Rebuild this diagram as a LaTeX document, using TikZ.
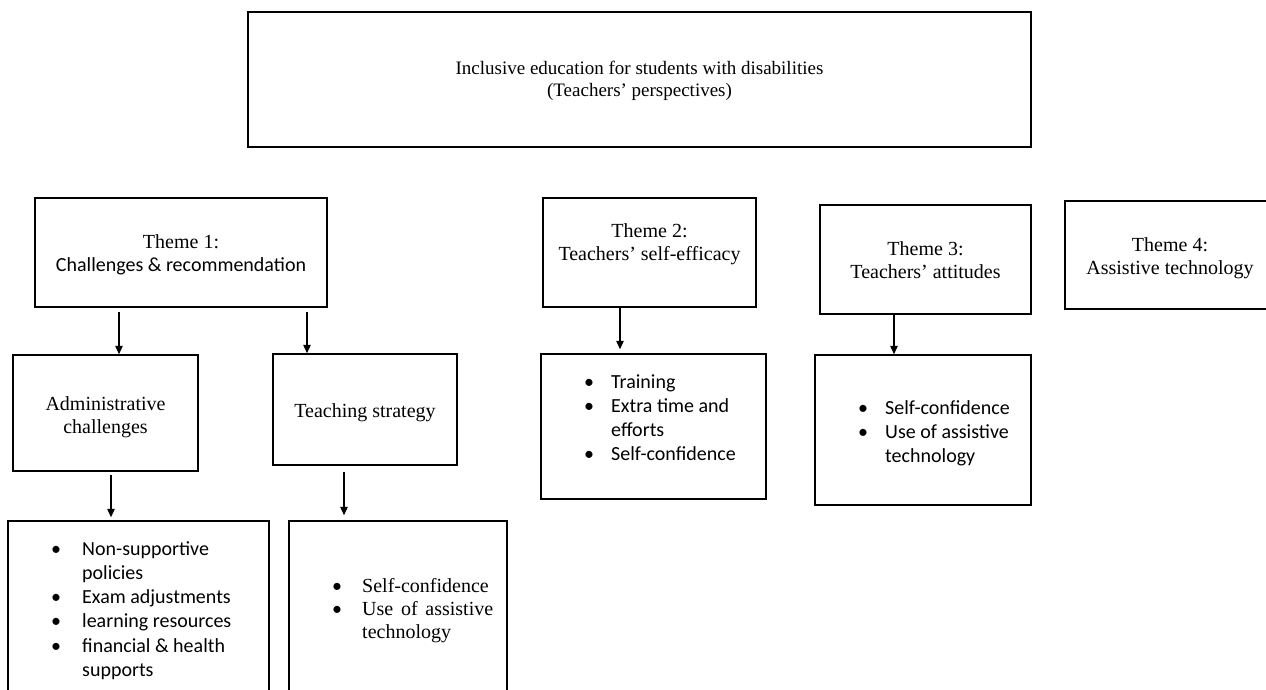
\documentclass[tikz,border=0pt]{standalone}
\usepackage{fontspec}
\setmainfont{Liberation Serif}
\newfontfamily\calfont{Carlito}
\usetikzlibrary{arrows.meta}
% bullet centred on the anchor, item text after a fixed indent
\newcommand\bitem[2]{\makebox[0pt][c]{\calfont\textbullet}\hspace*{#1}#2}
\begin{document}
\begin{tikzpicture}[x=1pt,y=-1pt,
  box/.style={draw=black, line width=1.5pt, inner sep=0pt},
  tm/.style={anchor=base, inner sep=0pt, font=\fontsize{20}{23}\selectfont},
  cb/.style={anchor=base, inner sep=0pt, font=\calfont\fontsize{20}{24}\selectfont},
  li/.style={anchor=base west, inner sep=0pt, font=\calfont\fontsize{20}{24}\selectfont},
  lt/.style={anchor=base west, inner sep=0pt, font=\fontsize{20}{23}\selectfont},
  arr/.style={line width=1.3pt, -{Triangle[length=8.5pt,width=7.5pt]}}]

\useasboundingbox (0,0) rectangle (1266,690);
\fill[white] (0,0) rectangle (1266,690);
\clip (0,0) rectangle (1266,690);

% frames
\node[box, minimum width=783pt, minimum height=135pt] (top) at (639.5,79.5) {};
\node[box, minimum width=292pt, minimum height=109pt] (t1) at (181,252.5) {};
\node[box, minimum width=185pt, minimum height=116pt] (adm) at (105.5,413) {};
\node[box, minimum width=184pt, minimum height=111pt] (tch) at (365,409.5) {};
\node[box, minimum width=261pt, minimum height=199pt] (adml) at (138.5,620.5) {};
\node[box, minimum width=218pt, minimum height=199pt] (tchl) at (398,620.5) {};
\node[box, minimum width=213pt, minimum height=109pt] (t2) at (649.5,252.5) {};
\node[box, minimum width=225pt, minimum height=145pt] (t2l) at (653.5,426.5) {};
\node[box, minimum width=211pt, minimum height=109pt] (t3) at (925.5,259.5) {};
\node[box, minimum width=216pt, minimum height=150pt] (t3l) at (923,430) {};
\node[box, minimum width=210pt, minimum height=108pt] (t4) at (1170,255) {};

% titles
\node[tm, font=\fontsize{19}{21}\selectfont] (topA) at (639.5,75) {Inclusive education for students with disabilities};
\node[tm, font=\fontsize{19}{21}\selectfont] (topB) at (639.5,96.5) {(Teachers’ perspectives)};
\node[tm] (t1a) at (181,248) {Theme 1:};
\node[cb] (t1b) at (181,271) {Challenges \& recommendation};
\node[tm] (t2a) at (649.5,237) {Theme 2:};
\node[tm] (t2b) at (649.5,260) {Teachers’ self-efficacy};
\node[tm] (t3a) at (925.5,255) {Theme 3:};
\node[tm] (t3b) at (925.5,278) {Teachers’ attitudes};
\node[tm] (t4a) at (1170,251) {Theme 4:};
\node[tm] (t4b) at (1170,274) {Assistive technology};
\node[tm] (adma) at (105.5,410) {Administrative};
\node[tm] (admb) at (105.5,433) {challenges};
\node[tm] (tcha) at (365,417) {Teaching strategy};

% administrative challenges
\node[li] (a1) at (56,555) {\bitem{26pt}{Non-supportive}};
\node[li] (a2) at (82,579) {policies};
\node[li] (a3) at (56,603) {\bitem{26pt}{Exam adjustments}};
\node[li] (a4) at (56,627) {\bitem{26pt}{learning resources}};
\node[li] (a5) at (56,652) {\bitem{26pt}{financial \& health}};
\node[li] (a6) at (82,676) {supports};

% teaching strategy
\node[lt] (s1) at (337,592) {\bitem{25pt}{Self-confidence}};
\node[lt] (s2) at (337,615) {\bitem{25pt}{\makebox[131pt][s]{Use of assistive}}};
\node[lt] (s3) at (362,638) {technology};

% self-efficacy
\node[li] (e1) at (589,388) {\bitem{22pt}{Training}};
\node[li] (e2) at (589,412) {\bitem{22pt}{Extra time and}};
\node[li] (e3) at (611,436) {efforts};
\node[li] (e4) at (589,460) {\bitem{22pt}{Self-confidence}};

% attitudes
\node[li] (g1) at (863,414) {\bitem{22pt}{Self-confidence}};
\node[li] (g2) at (863,438) {\bitem{22pt}{Use of assistive}};
\node[li] (g3) at (885,462) {technology};

% connectors
\draw[arr] ([xshift=-62pt,yshift=-4pt]t1.south) -- ([xshift=13.5pt]adm.north);
\draw[arr] ([xshift=126pt,yshift=-4pt]t1.south) -- ([xshift=-58pt]tch.north);
\draw[arr] ([xshift=5.5pt,yshift=-3pt]adm.south) -- ([xshift=-27.5pt,yshift=3pt]adml.north);
\draw[arr] ([xshift=-21pt,yshift=-6pt]tch.south) -- ([xshift=-54pt,yshift=5pt]tchl.north);
\draw[arr] ([xshift=-29.5pt]t2.south) -- ([xshift=-33.5pt,yshift=4pt]t2l.north);
\draw[arr] ([xshift=-31.5pt]t3.south) -- ([xshift=-29pt]t3l.north);
\end{tikzpicture}
\end{document}
